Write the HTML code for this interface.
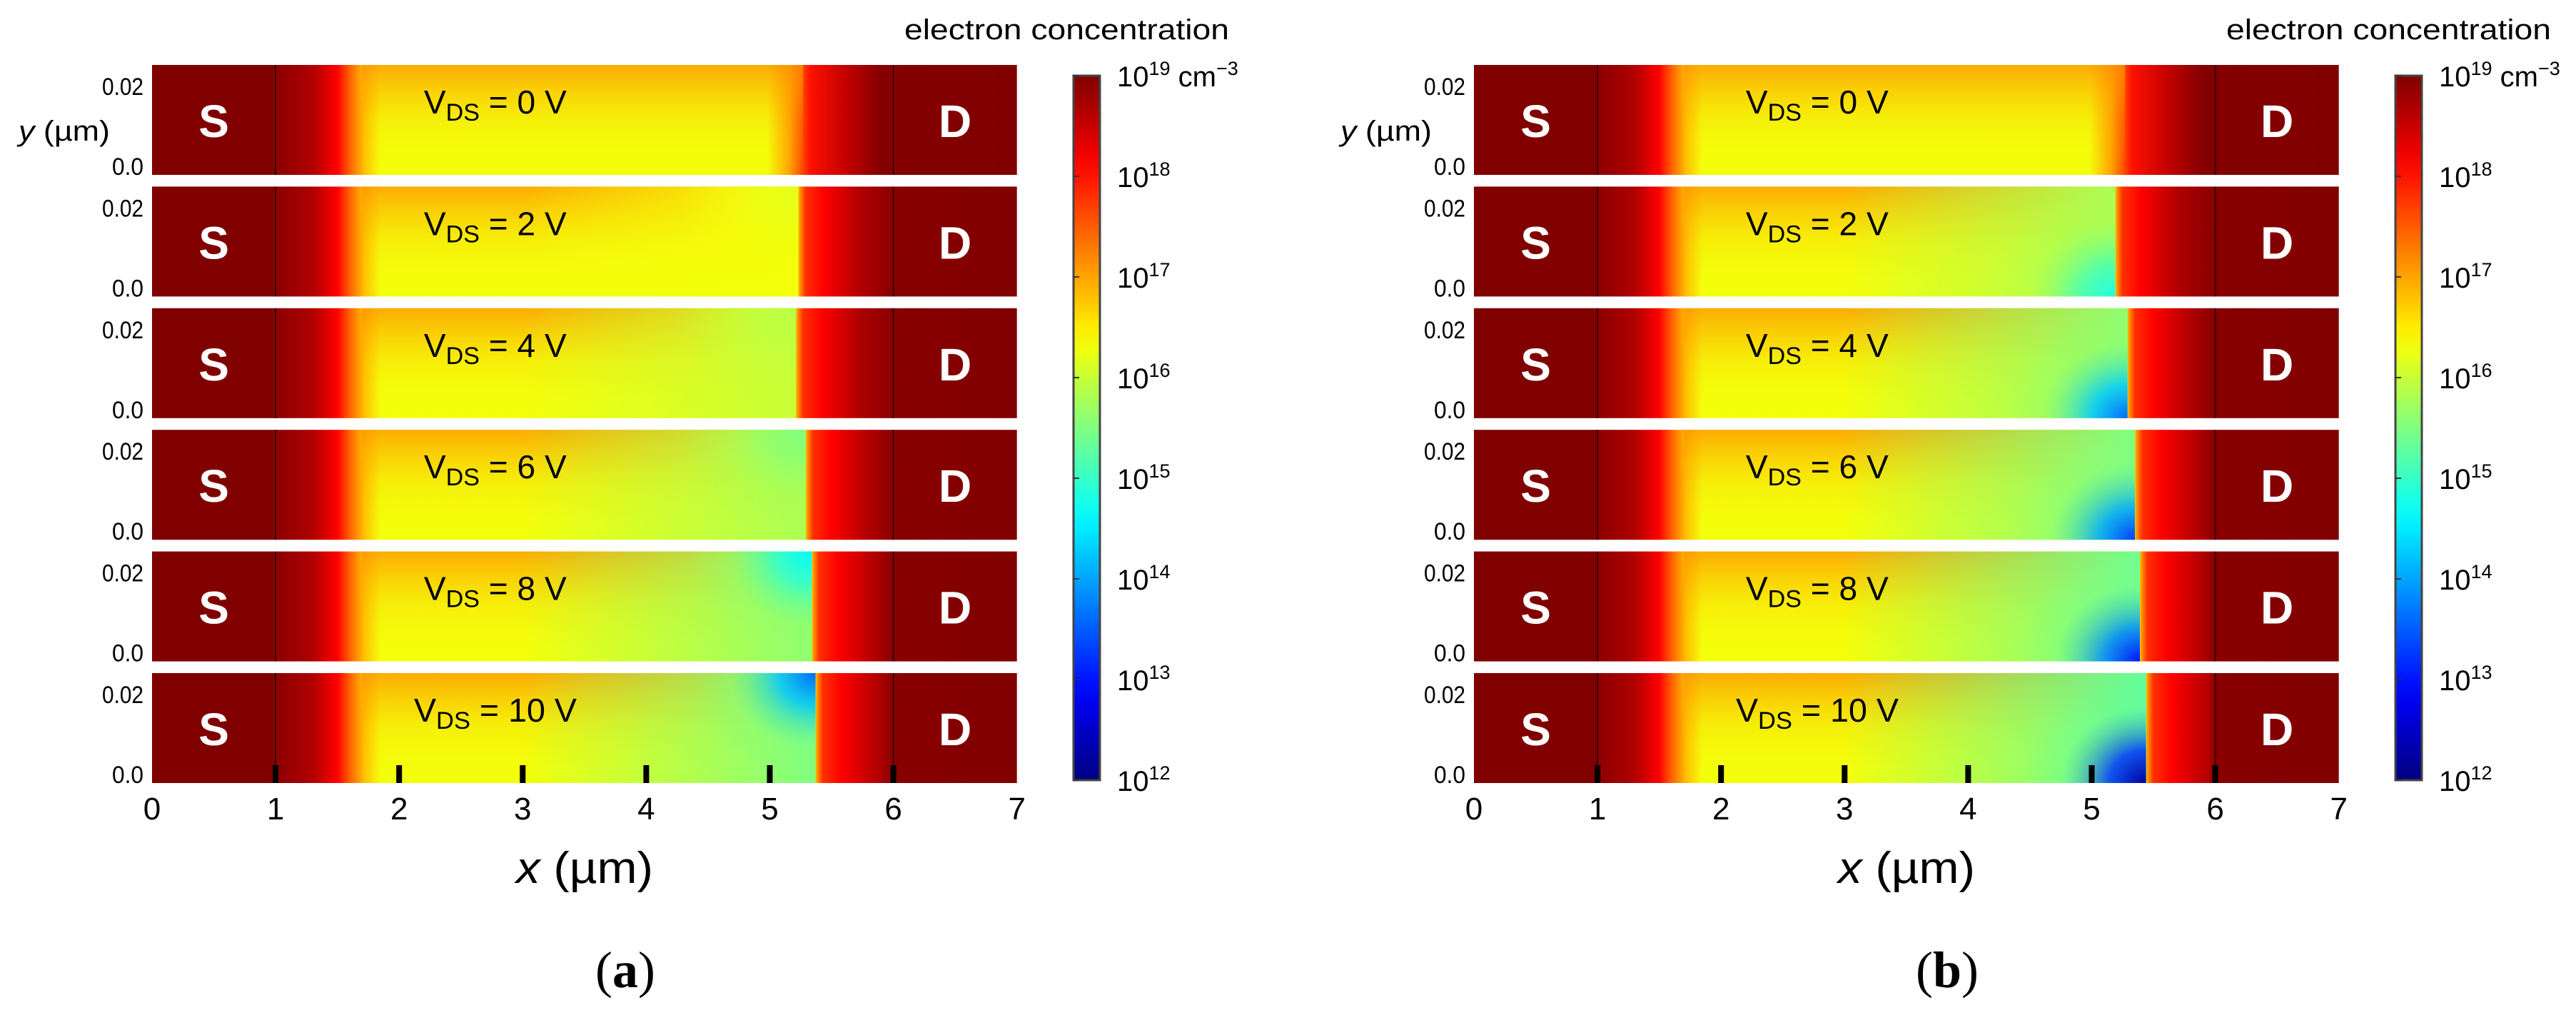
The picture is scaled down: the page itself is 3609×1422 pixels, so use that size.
<!DOCTYPE html>
<html><head><meta charset="utf-8">
<style>
html,body{margin:0;padding:0;background:#fff;}
svg{display:block;}
</style></head>
<body>
<svg id="fig" width="3609" height="1422" viewBox="0 0 3609 1422" xmlns="http://www.w3.org/2000/svg" font-family="Liberation Sans, sans-serif">
<defs id="defs"></defs>
</svg>
<script>
// ---- data ----
const vdsValues = [0, 2, 4, 6, 8, 10];
const xTicks = [0, 1, 2, 3, 4, 5, 6, 7];
const cbarDecades = [19, 18, 17, 16, 15, 14, 13, 12];
// panel (a)
const pinchA = [5.28, 5.24, 5.22, 5.30, 5.35, 5.38];
const broadA = [16.3, 16.3, 16.0, 15.8, 15.6, 15.5];
const coreA  = [16.3, 16.2, 15.9, 15.5, 14.6, 13.6];
// panel (b)
const pinchB = [5.28, 5.20, 5.30, 5.36, 5.40, 5.45];
const broadB = [16.3, 15.8, 15.6, 15.5, 15.4, 15.3];
const coreB  = [16.3, 14.8, 13.6, 13.3, 13.0, 12.2];

const NS = "http://www.w3.org/2000/svg";
const svg = document.getElementById('fig');
const defs = document.getElementById('defs');
function mk(tag, attrs, parent){ const e=document.createElementNS(NS,tag); for(const k in attrs) e.setAttribute(k,attrs[k]); (parent||svg).appendChild(e); return e; }

function jet(lg){
  let t=(lg-12)/7; t=Math.max(0,Math.min(1,t));
  const c=v=>Math.round(255*Math.max(0,Math.min(1,v)));
  const r=1.5-Math.abs(4*t-3), g=1.5-Math.abs(4*t-2), b=1.5-Math.abs(4*t-1);
  return `rgb(${c(r)},${c(g)},${c(b)})`;
}
let gid=0;
function linGrad(stops, vertical){
  const id='g'+(gid++);
  const g=mk('linearGradient',{id:id,x1:0,y1:0,x2:vertical?0:1,y2:vertical?1:0},defs);
  stops.forEach(s=>mk('stop',{offset:s[0],'stop-color':s[1],'stop-opacity':s[2]===undefined?1:s[2]},g));
  return id;
}

const stripTop0 = 91, stripPitch = 170.4, stripH = 154;
const xUnit = 173.1;
const chan = 16.3;

function drawPanel(ox, pinch, broad, core, corePosBottom, label){
  const X = v => ox + v*xUnit;
  const W = 7*xUnit;
  const panel = mk('g',{});
  
  
  vdsValues.forEach((vds,i)=>{
    const y0 = stripTop0 + i*stripPitch;
    const g = mk('g',{},panel);
    
    
    const p = pinch[i];
    const f = v => (v/7).toFixed(4);
    let stops = [[0,'#800000'],[f(1),'#800000'],[f(1.0),'#8c0000'],[f(1.3),'#b00000'],[f(1.5),'#ff0000'],[f(1.6),'#ff6000'],[f(1.72),'#ffc000'],[f(1.85),jet(chan)]];
    if(vds===0){
      stops.push([f(p-0.3),jet(chan)],[f(p-0.12),'#ffa000'],[f(p+0.05),'#ff1000'],[f(p+0.35),'#c00000'],[f(5.9),'#840000'],[1,'#800000']);
    } else {
      stops.push([f(p-0.02),jet(chan)],[f(p),'#ffa000'],[f(p+0.05),'#ff3000'],[f(p+0.2),'#ff0000'],[f(p+0.5),'#b00000'],[f(6),'#880000'],[1,'#800000']);
    }
    const base = mk('rect',{x:X(0),y:y0,width:W,height:stripH,fill:'url(#'+linGrad(stops)+')'},g);
    
    
    // top orange tint in channel (under depletion overlays)
    const tint = linGrad([[0,'#ff9000',0.75],[0.5,'#ffb000',0.2],[1,'#ffff00',0]],true);
    const tx0 = X(1.7), tx1 = X(p-0.01);
    mk('rect',{x:tx0,y:y0,width:tx1-tx0,height:stripH,fill:'url(#'+tint+')'},g);
    if(vds>0){
      const bx0 = X(3.0), bx1 = X(p-0.01);
      const bg = linGrad([[0,jet(broad[i]),0],[0.6,jet(broad[i]),0.6],[1,jet(broad[i]),1]]);
      mk('rect',{x:bx0,y:y0,width:bx1-bx0,height:stripH,fill:'url(#'+bg+')'},g);
      const rid='r'+(gid++);
      const cy = corePosBottom ? 1 : 0;
      const rg = mk('radialGradient',{id:rid,cx:1,cy:cy,r:1,fx:1,fy:cy},defs);
      mk('stop',{offset:0,'stop-color':jet(core[i]),'stop-opacity':1},rg);
      mk('stop',{offset:0.3,'stop-color':jet((core[i]*2+broad[i])/3),'stop-opacity':0.85},rg);
      mk('stop',{offset:0.7,'stop-color':jet(broad[i]),'stop-opacity':0.3},rg);
      mk('stop',{offset:1,'stop-color':jet(broad[i]),'stop-opacity':0},rg);
      const cx0 = X(p-1.0);
      mk('rect',{x:cx0,y:y0,width:bx1-cx0,height:stripH,fill:'url(#'+rid+')'},g);
    }
    [1,6].forEach(b=>{ const l=mk('line',{x1:X(b),x2:X(b),y1:y0,y2:y0+stripH,stroke:'#3a0000','stroke-width':2},g);
        });
    const s=mk('text',{x:X(0.5),y:y0+stripH/2+24,'text-anchor':'middle','font-size':64,'font-weight':'bold',fill:'#fff'},g); s.textContent='S';
     
    const d=mk('text',{x:X(6.5),y:y0+stripH/2+24,'text-anchor':'middle','font-size':64,'font-weight':'bold',fill:'#fff'},g); d.textContent='D';
     
    const v=mk('text',{x:vds===10?X(2.12):X(2.2),y:y0+68,'font-size':46,fill:'#000',textLength:vds===10?228:200,lengthAdjust:'spacingAndGlyphs'},g);
     
    v.innerHTML='V<tspan font-size="34" dy="10">DS</tspan><tspan dy="-10"> = '+vds+' V</tspan>';
    const t1=mk('text',{x:ox-12,y:y0+42,'text-anchor':'end','font-size':34,fill:'#000',textLength:58,lengthAdjust:'spacingAndGlyphs'},panel); t1.textContent='0.02';
     
    const t0=mk('text',{x:ox-12,y:y0+stripH,'text-anchor':'end','font-size':34,fill:'#000',textLength:44,lengthAdjust:'spacingAndGlyphs'},panel); t0.textContent='0.0';
     
  });
  const lastBottom = stripTop0 + 5*stripPitch + stripH;
  xTicks.forEach(t=>{
    if(t>0 && t<7){ const tk=mk('rect',{x:X(t)-4,y:lastBottom-25,width:8,height:25,fill:'#000'},panel);
        }
    const tl=mk('text',{x:X(t),y:1148,'text-anchor':'middle','font-size':44,fill:'#000'},panel); tl.textContent=t;
     
  });
  const yl=mk('text',{x:ox-187,y:197,'font-size':40,fill:'#000',textLength:128,lengthAdjust:'spacingAndGlyphs'},panel);
   
  yl.innerHTML='<tspan font-style="italic">y</tspan> (µm)';
  const xl=mk('text',{x:ox+510,y:1237,'font-size':62,fill:'#000',textLength:192,lengthAdjust:'spacingAndGlyphs'},panel);
   
  xl.innerHTML='<tspan font-style="italic">x</tspan> (µm)';
  const cap=mk('text',{x:ox+663,y:1383,'text-anchor':'middle','font-size':72,fill:'#000','font-family':'Liberation Serif, serif'},panel);
   
  cap.innerHTML='(<tspan font-weight="bold">'+label+'</tspan>)';
  const cbx = ox+1291, cbTop=106, cbBot=1093, cbW=37;
  const cs = [];
  for(let k=0;k<=28;k++){ const lg=19-k*0.25; cs.push([(k/28).toFixed(4), jet(lg)]); }
  const cb=mk('rect',{x:cbx,y:cbTop,width:cbW,height:cbBot-cbTop,fill:'url(#'+linGrad(cs,true)+')',stroke:'#444','stroke-width':3},panel);
   
  const cy = lg => cbTop + (19-lg)/7*(cbBot-cbTop);
  cbarDecades.forEach(lg=>{
    const tk=mk('line',{x1:cbx,x2:cbx+8,y1:cy(lg),y2:cy(lg),stroke:'#333','stroke-width':2},panel);
     
    const tl=mk('text',{x:cbx+61,y:cy(lg)+15,'font-size':40,fill:'#000'},panel);
     
    tl.innerHTML='10<tspan font-size="27" dy="-16">'+lg+'</tspan>'+(lg===19?'<tspan dy="16"> cm</tspan><tspan font-size="27" dy="-16">−3</tspan>':'');
  });
  const et=mk('text',{x:ox+1509,y:55,'text-anchor':'end','font-size':40,fill:'#000',textLength:455,lengthAdjust:'spacingAndGlyphs'},panel);
   
  et.textContent='electron concentration';
}
drawPanel(213, pinchA, broadA, coreA, false, 'a');
drawPanel(2065, pinchB, broadB, coreB, true, 'b');
</script>
</body></html>
